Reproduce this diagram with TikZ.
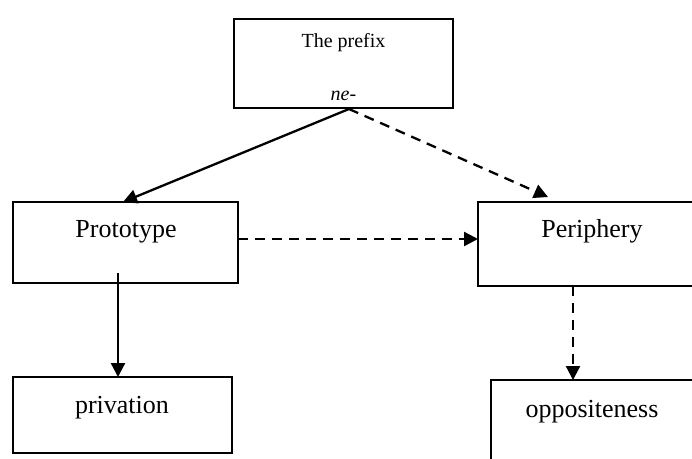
\documentclass[tikz,border=0pt]{standalone}
\usepackage{fontspec}
\setmainfont{Liberation Serif}
\usetikzlibrary{arrows.meta}

\begin{document}
\begin{tikzpicture}[x=1pt, y=-1pt,
  frame/.style={draw=black, line width=2pt},
  label/.style={anchor=base, inner sep=0pt, font=\fontsize{26}{30}\selectfont},
  small/.style={anchor=base, inner sep=0pt, font=\fontsize{20}{24}\selectfont},
  link/.style={line width=2.3pt, -{Triangle[length=14pt, width=14pt]}},
  dlink/.style={link, dash pattern=on 10pt off 7pt},
]
\useasboundingbox (0,0) rectangle (692,458);
\clip (0,0) rectangle (692,458);

% boxes
\node[frame, inner sep=0pt, minimum width=219pt, minimum height=89pt] (prefix) at (343.5,63.5) {};
\node[frame, inner sep=0pt, minimum width=225pt, minimum height=81pt] (proto) at (125.5,242.5) {};
\node[frame, inner sep=0pt, minimum width=242pt, minimum height=84pt] (peri) at (599,244) {};
\node[frame, inner sep=0pt, minimum width=219pt, minimum height=76pt] (priv) at (122.5,415) {};
\node[frame, inner sep=0pt, minimum width=229pt, minimum height=100pt] (oppo) at (605.5,430) {};

% texts
\node[small] (prefixtxt) at (343.5,47) {The prefix};
\node[small] (netxt) at (343.5,100) {\itshape ne-};
\node[label] (prototxt) at (126,237) {Prototype};
\node[label] (peritxt) at (592,237) {Periphery};
\node[label] (privtxt) at (122,413) {privation};
\node[label] (oppotxt) at (592,417) {oppositeness};

% connector end points
\coordinate (fork) at (349,109);
\coordinate (protoin) at (123,202);
\coordinate (periin) at (548,197);
\coordinate (protoR) at (238,239);
\coordinate (periL) at (478,239);
\coordinate (protoOut) at (118,273);
\coordinate (privIn) at (118,377);
\coordinate (periOut) at (573,286);
\coordinate (oppoIn) at (573,380);

% connectors
\draw[link] (fork) -- (protoin);
\draw[dlink] (fork) -- (periin);
\draw[dlink] (protoR) -- (periL);
\draw[link] (protoOut) -- (privIn);
\draw[dlink] (periOut) -- (oppoIn);
\end{tikzpicture}
\end{document}
